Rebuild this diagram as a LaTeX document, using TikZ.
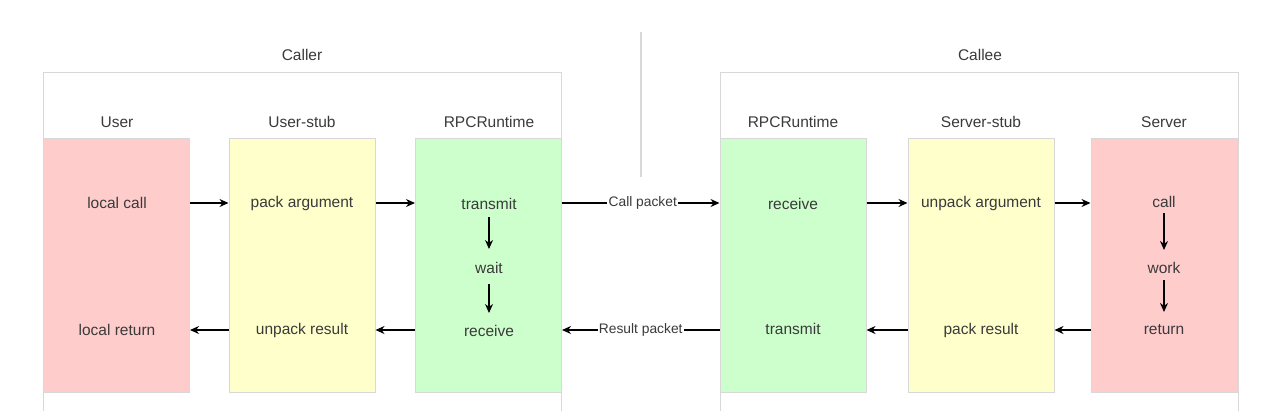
\documentclass[tikz,border=0pt]{standalone}
\usepackage{fontspec}
\setmainfont{Liberation Sans}
\usetikzlibrary{arrows.meta,calc}
\definecolor{redfill}{HTML}{FFCCCC}
\definecolor{yelfill}{HTML}{FFFFCC}
\definecolor{grnfill}{HTML}{CCFFCC}
\definecolor{boxline}{HTML}{D8D8D8}
\definecolor{txt}{HTML}{3A3A3A}
\tikzset{
  container/.style={draw=boxline, line width=1.2pt, fill=white, minimum width=518, minimum height=360, anchor=north west, inner sep=0},
  col/.style={draw=boxline, line width=1pt, minimum width=146, minimum height=254, inner sep=0},
  redcol/.style={col, fill=redfill},
  yelcol/.style={col, fill=yelfill},
  grncol/.style={col, fill=grnfill},
  lbl/.style={text=txt, font=\fontsize{15.5}{18}\selectfont, inner sep=0},
  small/.style={text=txt, font=\fontsize{13.8}{16}\selectfont, fill=white, inner sep=1pt},
  arr/.style={draw=black, line width=1.4pt, -{Stealth[length=9pt,width=8pt]}},
  plain/.style={draw=black, line width=1.4pt},
}
\begin{document}
\begin{tikzpicture}[x=1pt,y=-1pt]
\useasboundingbox (0,0) rectangle (1280,410);
\fill[white] (0,0) rectangle (1280,410);
\begin{scope}
\clip (0,0) rectangle (1280,410);
\node[container] (caller) at (43,72) {};
\node[container] (callee) at (720,72) {};
\end{scope}
\coordinate (divtop) at (641,32);
\coordinate (divbot) at (641,177);
\draw[draw=boxline, line width=1.3pt] (divtop) -- (divbot);

\node[lbl] (callerlbl) at (302,55) {Caller};
\node[lbl] (calleelbl) at (980,55) {Callee};

% column headers
\node[lbl] (hUser) at (117,122) {User};
\node[lbl] (hUstub) at (302,122) {User-stub};
\node[lbl] (hRpcL) at (489,122) {RPCRuntime};
\node[lbl] (hRpcR) at (793,122) {RPCRuntime};
\node[lbl] (hSstub) at (981,122) {Server-stub};
\node[lbl] (hServer) at (1164,122) {Server};

% columns
\node[redcol] (user) at (116.5,265) {};
\node[yelcol] (ustub) at (302,265) {};
\node[grncol] (rpcl) at (488.5,265) {};
\node[grncol] (rpcr) at (793,265) {};
\node[yelcol] (sstub) at (981,265) {};
\node[redcol] (server) at (1164,265) {};

% texts
\node[lbl] (lcall) at (117,203) {local call};
\node[lbl] (lret) at (117,330) {local return};
\node[lbl] (packarg) at (302,203) {pack argument};
\node[lbl] (unpackres) at (302,330) {unpack result};
\node[lbl] (transL) at (489,204) {transmit};
\node[lbl] (waitL) at (489,268) {wait};
\node[lbl] (recvL) at (489,331) {receive};
\node[lbl] (recvR) at (793,204) {receive};
\node[lbl] (transR) at (793,329) {transmit};
\node[lbl] (unpackarg) at (981,203) {unpack argument};
\node[lbl] (packres) at (981,330) {pack result};
\node[lbl] (callS) at (1164,202) {call};
\node[lbl] (workS) at (1164,268) {work};
\node[lbl] (retS) at (1164,330) {return};

% horizontal arrows, top row
\draw[arr] (user.east |- lcall) -- (ustub.west |- lcall);
\draw[arr] (ustub.east |- lcall) -- (rpcl.west |- lcall);
\path (rpcl.east |- lcall) -- node[small, xshift=2pt] (callpkt) {Call packet} (rpcr.west |- lcall);
\draw[plain] (rpcl.east |- lcall) -- (callpkt.west);
\draw[arr] (callpkt.east) -- (rpcr.west |- lcall);
\draw[arr] (rpcr.east |- lcall) -- (sstub.west |- lcall);
\draw[arr] (sstub.east |- lcall) -- (server.west |- lcall);

% horizontal arrows, bottom row
\draw[arr] (server.west |- lret) -- (sstub.east |- lret);
\draw[arr] (sstub.west |- lret) -- (rpcr.east |- lret);
\path (rpcr.west |- lret) -- node[small] (respkt) {Result packet} (rpcl.east |- lret);
\draw[plain] (rpcr.west |- lret) -- (respkt.east);
\draw[arr] (respkt.west) -- (rpcl.east |- lret);
\draw[arr] (rpcl.west |- lret) -- (ustub.east |- lret);
\draw[arr] (ustub.west |- lret) -- (user.east |- lret);

% vertical arrows
\draw[arr] ($(transL)+(0,13)$) -- ($(waitL)+(0,-19)$);
\draw[arr] ($(waitL)+(0,16)$) -- ($(recvL)+(0,-18)$);
\draw[arr] ($(callS)+(0,11)$) -- ($(workS)+(0,-18)$);
\draw[arr] ($(workS)+(0,12)$) -- ($(retS)+(0,-18)$);
\end{tikzpicture}
\end{document}
